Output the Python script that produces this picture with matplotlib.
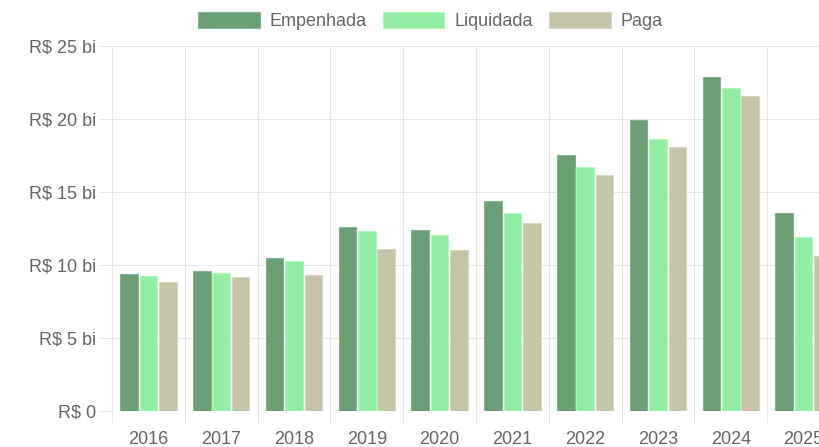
import matplotlib
matplotlib.use("Agg")
import matplotlib.pyplot as plt
import numpy as np
from matplotlib.ticker import FixedLocator, FuncFormatter

years = ["2016", "2017", "2018", "2019", "2020", "2021", "2022", "2023", "2024", "2025"]
empenhada = [9.40, 9.60, 10.49, 12.60, 12.40, 14.40, 17.53, 19.91, 22.85, 13.58]
liquidada = [9.25, 9.44, 10.26, 12.33, 12.06, 13.56, 16.70, 18.62, 22.11, 11.90]
paga = [8.83, 9.21, 9.30, 11.10, 11.03, 12.88, 16.16, 18.06, 21.57, 10.64]
series_names = ["Empenhada", "Liquidada", "Paga"]
y_ticks = [0, 5, 10, 15, 20, 25]

fills = ["#6a9f76", "#93eda3", "#c6c5a9"]
edges = ["#85b590", "#b4f5bf", "#d8d7c2"]

plt.rcParams["font.family"] = ["Liberation Sans", "DejaVu Sans"]
W, H = 820, 447
fig = plt.figure(figsize=(W / 100, H / 100), dpi=100)

left_px, right_px = 112, 840
top_px, bottom_px = 45.7, 411.3
ax = fig.add_axes([left_px / W, (H - bottom_px) / H, (right_px - left_px) / W, (bottom_px - top_px) / H])

x = np.arange(len(years))
slot = 0.8 / 3
width = slot * 0.9
data = [empenhada, liquidada, paga]
for i, (vals, name) in enumerate(zip(data, series_names)):
    ax.bar(x + (i - 1) * slot, vals, width=width, color=fills[i], edgecolor=edges[i],
           linewidth=0.8, label=name, zorder=3)

ax.set_xlim(-0.5, len(years) - 0.5)
ax.set_ylim(0, 25)

for s in ax.spines.values():
    s.set_visible(False)

grid_c = "#e5e5e5"
px = 0.72  # 1px in points
ax.yaxis.set_major_locator(FixedLocator(y_ticks))
ax.yaxis.set_major_formatter(FuncFormatter(lambda v, p: "R$ 0" if v == 0 else f"R$ {int(v)} bi"))
ax.tick_params(axis="y", which="major", length=12 * px, width=px, color=grid_c,
               labelsize=13, labelcolor="#666666", pad=3)
ax.grid(axis="y", which="major", color=grid_c, linewidth=px, zorder=0)

ax.set_xticks(x)
ax.set_xticklabels(years)
ax.tick_params(axis="x", which="major", length=0, labelsize=13, labelcolor="#666666", pad=14)
ax.xaxis.set_minor_locator(FixedLocator(np.arange(-0.5, len(years) + 0.5, 1.0)))
ax.tick_params(axis="x", which="minor", length=12 * px, width=px, color=grid_c)
ax.grid(axis="x", which="minor", color=grid_c, linewidth=px, zorder=0)
ax.grid(axis="x", which="major", visible=False)

handles = [plt.Rectangle((0, 0), 1, 1, facecolor=fills[i], edgecolor=edges[i], linewidth=0.8)
           for i in range(3)]
fig.legend(handles, series_names, loc="center", bbox_to_anchor=(430.5 / W, (H - 21) / H),
           ncol=3, frameon=False, fontsize=13, labelcolor="#666666",
           handlelength=3.4, handleheight=1.0, handletextpad=0.55, columnspacing=0.9)

fig.savefig("out.png", dpi=100)
